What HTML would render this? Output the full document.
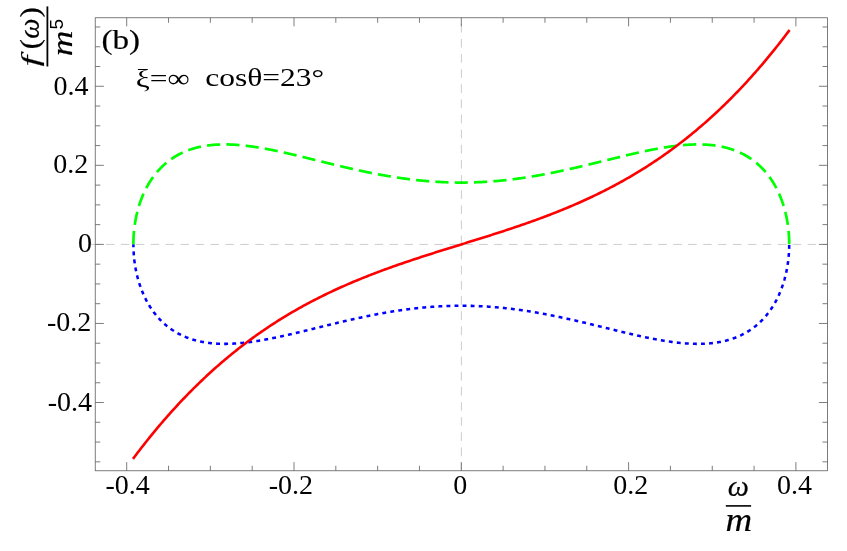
<!DOCTYPE html>
<html><head><meta charset="utf-8"><title>plot</title>
<style>
html,body{margin:0;padding:0;background:#fff;}
svg{display:block;}
text{fill:#000;}
</style></head><body>
<svg width="847" height="551" viewBox="0 0 847 551">
<rect width="847" height="551" fill="#fff"/>
<!-- curves -->
<g fill="none" stroke-linejoin="round" transform="translate(0 -0.25)">
<path d="M133.39 244.40 L133.39 244.96 L133.40 245.51 L133.40 246.07 L133.41 246.63 L133.42 247.19 L133.43 247.74 L133.45 248.30 L133.46 248.86 L133.48 249.41 L133.50 249.97 L133.53 250.52 L133.55 251.08 L133.58 251.64 L133.61 252.19 L133.65 252.75 L133.68 253.30 L133.72 253.86 L133.76 254.41 L133.80 254.97 L133.84 255.52 L133.89 256.07 L133.94 256.63 L133.99 257.18 L134.04 257.73 L134.10 258.28 L134.15 258.83 L134.21 259.38 L134.27 259.93 L134.34 260.48 L134.40 261.03 L134.47 261.58 L134.54 262.13 L134.62 262.68 L134.69 263.22 L134.77 263.77 L134.85 264.31 L134.93 264.86 L135.02 265.40 L135.10 265.95 L135.19 266.49 L135.28 267.03 L135.38 267.57 L135.47 268.11 L135.57 268.65 L135.67 269.19 L135.77 269.73 L135.88 270.27 L135.98 270.81 L136.09 271.34 L136.20 271.88 L136.32 272.41 L136.43 272.94 L136.55 273.47 L136.67 274.01 L136.79 274.54 L136.92 275.06 L137.04 275.59 L137.17 276.12 L137.30 276.65 L137.44 277.17 L137.57 277.69 L137.71 278.22 L137.85 278.74 L137.99 279.26 L138.14 279.78 L138.28 280.30 L138.43 280.81 L138.58 281.33 L138.74 281.84 L138.89 282.36 L139.05 282.87 L139.21 283.38 L139.37 283.89 L139.54 284.40 L139.70 284.90 L139.87 285.41 L140.04 285.91 L140.22 286.42 L140.39 286.92 L140.57 287.42 L140.75 287.92 L140.93 288.41 L141.12 288.91 L141.30 289.40 L141.49 289.90 L141.68 290.39 L141.87 290.88 L142.07 291.37 L142.27 291.85 L142.47 292.34 L142.67 292.82 L142.87 293.30 L143.08 293.79 L143.29 294.26 L143.50 294.74 L143.71 295.22 L143.93 295.69 L144.14 296.16 L144.36 296.63 L144.58 297.10 L144.81 297.57 L145.03 298.04 L145.26 298.50 L145.49 298.96 L145.72 299.42 L145.96 299.88 L146.19 300.34 L146.43 300.79 L146.67 301.24 L146.92 301.70 L147.16 302.15 L147.41 302.59 L147.66 303.04 L147.91 303.48 L148.17 303.92 L148.42 304.36 L148.68 304.80 L148.94 305.24 L149.20 305.67 L149.47 306.10 L149.73 306.53 L150.00 306.96 L150.27 307.39 L150.55 307.81 L150.82 308.23 L151.10 308.65 L151.38 309.07 L151.66 309.49 L151.95 309.90 L152.23 310.31 L152.52 310.72 L152.81 311.13 L153.10 311.53 L153.40 311.94 L153.69 312.34 L153.99 312.74 L154.29 313.13 L154.60 313.53 L154.90 313.92 L155.21 314.31 L155.52 314.70 L155.83 315.08 L156.14 315.47 L156.46 315.85 L156.77 316.23 L157.09 316.60 L157.42 316.98 L157.74 317.35 L158.07 317.72 L158.39 318.08 L158.72 318.45 L159.06 318.81 L159.39 319.17 L159.73 319.53 L160.06 319.89 L160.41 320.24 L160.75 320.59 L161.09 320.94 L161.44 321.28 L161.79 321.63 L162.14 321.97 L162.49 322.31 L162.85 322.64 L163.20 322.98 L163.56 323.31 L163.92 323.64 L164.29 323.96 L164.65 324.29 L165.02 324.61 L165.39 324.93 L165.76 325.24 L166.13 325.56 L166.51 325.87 L166.88 326.18 L167.26 326.48 L167.64 326.79 L168.03 327.09 L168.41 327.39 L168.80 327.69 L169.19 327.98 L169.58 328.27 L169.98 328.56 L170.37 328.84 L170.77 329.13 L171.17 329.41 L171.57 329.69 L171.97 329.96 L172.38 330.24 L172.78 330.51 L173.19 330.77 L173.61 331.04 L174.02 331.30 L174.43 331.56 L174.85 331.82 L175.27 332.07 L175.69 332.33 L176.11 332.58 L176.54 332.82 L176.97 333.07 L177.39 333.31 L177.83 333.55 L178.26 333.78 L178.69 334.02 L179.13 334.25 L179.57 334.47 L180.01 334.70 L180.45 334.92 L180.90 335.14 L181.34 335.36 L181.79 335.57 L182.24 335.79 L182.69 336.00 L183.15 336.20 L183.60 336.41 L184.06 336.61 L184.52 336.81 L184.98 337.00 L185.45 337.20 L185.91 337.39 L186.38 337.57 L186.85 337.76 L187.32 337.94 L187.79 338.12 L188.27 338.30 L188.74 338.47 L189.22 338.64 L189.70 338.81 L190.19 338.98 L190.67 339.14 L191.16 339.30 L191.64 339.46 L192.13 339.62 L192.63 339.77 L193.12 339.92 L193.61 340.07 L194.11 340.21 L194.61 340.35 L195.11 340.49 L195.61 340.63 L196.12 340.76 L196.62 340.89 L197.13 341.02 L197.64 341.15 L198.15 341.27 L198.67 341.39 L199.18 341.51 L199.70 341.63 L200.22 341.74 L200.74 341.85 L201.26 341.95 L201.79 342.06 L202.31 342.16 L202.84 342.26 L203.37 342.36 L203.90 342.45 L204.43 342.54 L204.97 342.63 L205.51 342.72 L206.04 342.80 L206.58 342.88 L207.13 342.96 L207.67 343.03 L208.22 343.11 L208.76 343.18 L209.31 343.25 L209.86 343.31 L210.41 343.37 L210.97 343.43 L211.52 343.49 L212.08 343.55 L212.64 343.60 L213.20 343.65 L213.77 343.70 L214.33 343.74 L214.90 343.78 L215.46 343.82 L216.03 343.86 L216.60 343.89 L217.18 343.93 L217.75 343.96 L218.33 343.98 L218.90 344.01 L219.48 344.03 L220.07 344.05 L220.65 344.07 L221.23 344.08 L221.82 344.10 L222.41 344.11 L223.00 344.11 L223.59 344.12 L224.18 344.12 L224.77 344.12 L225.37 344.12 L225.97 344.12 L226.57 344.11 L227.17 344.10 L227.77 344.09 L228.37 344.08 L228.98 344.06 L229.59 344.04 L230.19 344.02 L230.80 344.00 L231.42 343.97 L232.03 343.95 L232.65 343.92 L233.26 343.88 L233.88 343.85 L234.50 343.81 L235.12 343.78 L235.74 343.74 L236.37 343.69 L236.99 343.65 L237.62 343.60 L238.25 343.55 L238.88 343.50 L239.51 343.45 L240.15 343.39 L240.78 343.33 L241.42 343.27 L242.06 343.21 L242.70 343.15 L243.34 343.08 L243.98 343.01 L244.62 342.94 L245.27 342.87 L245.92 342.80 L246.57 342.72 L247.22 342.64 L247.87 342.56 L248.52 342.48 L249.17 342.40 L249.83 342.31 L250.49 342.22 L251.15 342.13 L251.81 342.04 L252.47 341.95 L253.13 341.85 L253.80 341.76 L254.46 341.66 L255.13 341.56 L255.80 341.45 L256.47 341.35 L257.14 341.24 L257.81 341.14 L258.49 341.03 L259.16 340.92 L259.84 340.80 L260.52 340.69 L261.20 340.57 L261.88 340.46 L262.56 340.34 L263.25 340.22 L263.93 340.09 L264.62 339.97 L265.31 339.84 L266.00 339.72 L266.69 339.59 L267.38 339.46 L268.07 339.33 L268.77 339.19 L269.47 339.06 L270.16 338.92 L270.86 338.78 L271.56 338.65 L272.26 338.51 L272.97 338.36 L273.67 338.22 L274.37 338.08 L275.08 337.93 L275.79 337.78 L276.50 337.64 L277.21 337.49 L277.92 337.33 L278.63 337.18 L279.35 337.03 L280.06 336.88 L280.78 336.72 L281.50 336.56 L282.22 336.40 L282.94 336.25 L283.66 336.09 L284.38 335.92 L285.11 335.76 L285.83 335.60 L286.56 335.43 L287.28 335.27 L288.01 335.10 L288.74 334.93 L289.47 334.77 L290.21 334.60 L290.94 334.43 L291.67 334.26 L292.41 334.08 L293.15 333.91 L293.89 333.74 L294.63 333.56 L295.37 333.39 L296.11 333.21 L296.85 333.03 L297.59 332.86 L298.34 332.68 L299.09 332.50 L299.83 332.32 L300.58 332.14 L301.33 331.96 L302.08 331.77 L302.83 331.59 L303.59 331.41 L304.34 331.23 L305.09 331.04 L305.85 330.86 L306.61 330.67 L307.36 330.49 L308.12 330.30 L308.88 330.11 L309.65 329.92 L310.41 329.74 L311.17 329.55 L311.94 329.36 L312.70 329.17 L313.47 328.98 L314.23 328.79 L315.00 328.60 L315.77 328.41 L316.54 328.22 L317.31 328.03 L318.09 327.84 L318.86 327.65 L319.63 327.46 L320.41 327.27 L321.19 327.08 L321.96 326.88 L322.74 326.69 L323.52 326.50 L324.30 326.31 L325.08 326.11 L325.86 325.92 L326.65 325.73 L327.43 325.54 L328.22 325.35 L329.00 325.15 L329.79 324.96 L330.58 324.77 L331.36 324.58 L332.15 324.39 L332.94 324.19 L333.73 324.00 L334.53 323.81 L335.32 323.62 L336.11 323.43 L336.91 323.24 L337.70 323.05 L338.50 322.86 L339.30 322.67 L340.09 322.48 L340.89 322.29 L341.69 322.10 L342.49 321.91 L343.29 321.72 L344.10 321.53 L344.90 321.34 L345.70 321.16 L346.51 320.97 L347.31 320.78 L348.12 320.60 L348.92 320.41 L349.73 320.23 L350.54 320.04 L351.35 319.86 L352.16 319.68 L352.97 319.49 L353.78 319.31 L354.59 319.13 L355.41 318.95 L356.22 318.77 L357.03 318.59 L357.85 318.41 L358.66 318.23 L359.48 318.05 L360.30 317.88 L361.12 317.70 L361.93 317.53 L362.75 317.35 L363.57 317.18 L364.39 317.01 L365.21 316.83 L366.04 316.66 L366.86 316.49 L367.68 316.32 L368.51 316.15 L369.33 315.99 L370.15 315.82 L370.98 315.65 L371.81 315.49 L372.63 315.33 L373.46 315.16 L374.29 315.00 L375.12 314.84 L375.95 314.68 L376.78 314.52 L377.61 314.36 L378.44 314.21 L379.27 314.05 L380.10 313.90 L380.93 313.75 L381.77 313.59 L382.60 313.44 L383.44 313.29 L384.27 313.14 L385.11 313.00 L385.94 312.85 L386.78 312.71 L387.62 312.56 L388.45 312.42 L389.29 312.28 L390.13 312.14 L390.97 312.00 L391.81 311.86 L392.65 311.73 L393.49 311.59 L394.33 311.46 L395.17 311.33 L396.01 311.20 L396.85 311.07 L397.70 310.94 L398.54 310.81 L399.38 310.69 L400.23 310.57 L401.07 310.44 L401.92 310.32 L402.76 310.20 L403.61 310.09 L404.45 309.97 L405.30 309.86 L406.15 309.74 L406.99 309.63 L407.84 309.52 L408.69 309.41 L409.54 309.30 L410.39 309.20 L411.23 309.10 L412.08 308.99 L412.93 308.89 L413.78 308.79 L414.63 308.70 L415.48 308.60 L416.34 308.51 L417.19 308.41 L418.04 308.32 L418.89 308.23 L419.74 308.14 L420.59 308.06 L421.45 307.97 L422.30 307.89 L423.15 307.81 L424.01 307.73 L424.86 307.65 L425.71 307.58 L426.57 307.50 L427.42 307.43 L428.28 307.36 L429.13 307.29 L429.99 307.22 L430.84 307.16 L431.70 307.09 L432.55 307.03 L433.41 306.97 L434.27 306.91 L435.12 306.85 L435.98 306.80 L436.84 306.75 L437.69 306.69 L438.55 306.65 L439.41 306.60 L440.26 306.55 L441.12 306.51 L441.98 306.46 L442.84 306.42 L443.70 306.39 L444.55 306.35 L445.41 306.31 L446.27 306.28 L447.13 306.25 L447.99 306.22 L448.84 306.19 L449.70 306.16 L450.56 306.14 L451.42 306.12 L452.28 306.10 L453.14 306.08 L454.00 306.06 L454.86 306.05 L455.72 306.03 L456.57 306.02 L457.43 306.01 L458.29 306.01 L459.15 306.00 L460.01 306.00 L460.87 306.00 L461.73 306.00 L462.59 306.00 L463.45 306.00 L464.31 306.01 L465.17 306.01 L466.03 306.02 L466.88 306.03 L467.74 306.05 L468.60 306.06 L469.46 306.08 L470.32 306.10 L471.18 306.12 L472.04 306.14 L472.90 306.16 L473.76 306.19 L474.61 306.22 L475.47 306.25 L476.33 306.28 L477.19 306.31 L478.05 306.35 L478.90 306.39 L479.76 306.42 L480.62 306.46 L481.48 306.51 L482.34 306.55 L483.19 306.60 L484.05 306.65 L484.91 306.69 L485.76 306.75 L486.62 306.80 L487.48 306.85 L488.33 306.91 L489.19 306.97 L490.05 307.03 L490.90 307.09 L491.76 307.16 L492.61 307.22 L493.47 307.29 L494.32 307.36 L495.18 307.43 L496.03 307.50 L496.89 307.58 L497.74 307.65 L498.59 307.73 L499.45 307.81 L500.30 307.89 L501.15 307.97 L502.01 308.06 L502.86 308.14 L503.71 308.23 L504.56 308.32 L505.41 308.41 L506.26 308.51 L507.12 308.60 L507.97 308.70 L508.82 308.79 L509.67 308.89 L510.52 308.99 L511.37 309.10 L512.21 309.20 L513.06 309.30 L513.91 309.41 L514.76 309.52 L515.61 309.63 L516.45 309.74 L517.30 309.86 L518.15 309.97 L518.99 310.09 L519.84 310.20 L520.68 310.32 L521.53 310.44 L522.37 310.57 L523.22 310.69 L524.06 310.81 L524.90 310.94 L525.75 311.07 L526.59 311.20 L527.43 311.33 L528.27 311.46 L529.11 311.59 L529.95 311.73 L530.79 311.86 L531.63 312.00 L532.47 312.14 L533.31 312.28 L534.15 312.42 L534.98 312.56 L535.82 312.71 L536.66 312.85 L537.49 313.00 L538.33 313.14 L539.16 313.29 L540.00 313.44 L540.83 313.59 L541.67 313.75 L542.50 313.90 L543.33 314.05 L544.16 314.21 L544.99 314.36 L545.82 314.52 L546.65 314.68 L547.48 314.84 L548.31 315.00 L549.14 315.16 L549.97 315.33 L550.79 315.49 L551.62 315.65 L552.45 315.82 L553.27 315.99 L554.09 316.15 L554.92 316.32 L555.74 316.49 L556.56 316.66 L557.39 316.83 L558.21 317.01 L559.03 317.18 L559.85 317.35 L560.67 317.53 L561.48 317.70 L562.30 317.88 L563.12 318.05 L563.94 318.23 L564.75 318.41 L565.57 318.59 L566.38 318.77 L567.19 318.95 L568.01 319.13 L568.82 319.31 L569.63 319.49 L570.44 319.68 L571.25 319.86 L572.06 320.04 L572.87 320.23 L573.68 320.41 L574.48 320.60 L575.29 320.78 L576.09 320.97 L576.90 321.16 L577.70 321.34 L578.50 321.53 L579.31 321.72 L580.11 321.91 L580.91 322.10 L581.71 322.29 L582.51 322.48 L583.30 322.67 L584.10 322.86 L584.90 323.05 L585.69 323.24 L586.49 323.43 L587.28 323.62 L588.07 323.81 L588.87 324.00 L589.66 324.19 L590.45 324.39 L591.24 324.58 L592.02 324.77 L592.81 324.96 L593.60 325.15 L594.38 325.35 L595.17 325.54 L595.95 325.73 L596.74 325.92 L597.52 326.11 L598.30 326.31 L599.08 326.50 L599.86 326.69 L600.64 326.88 L601.41 327.08 L602.19 327.27 L602.97 327.46 L603.74 327.65 L604.51 327.84 L605.29 328.03 L606.06 328.22 L606.83 328.41 L607.60 328.60 L608.37 328.79 L609.13 328.98 L609.90 329.17 L610.66 329.36 L611.43 329.55 L612.19 329.74 L612.95 329.92 L613.72 330.11 L614.48 330.30 L615.24 330.49 L615.99 330.67 L616.75 330.86 L617.51 331.04 L618.26 331.23 L619.01 331.41 L619.77 331.59 L620.52 331.77 L621.27 331.96 L622.02 332.14 L622.77 332.32 L623.51 332.50 L624.26 332.68 L625.01 332.86 L625.75 333.03 L626.49 333.21 L627.23 333.39 L627.97 333.56 L628.71 333.74 L629.45 333.91 L630.19 334.08 L630.93 334.26 L631.66 334.43 L632.39 334.60 L633.13 334.77 L633.86 334.93 L634.59 335.10 L635.32 335.27 L636.04 335.43 L636.77 335.60 L637.49 335.76 L638.22 335.92 L638.94 336.09 L639.66 336.25 L640.38 336.40 L641.10 336.56 L641.82 336.72 L642.54 336.88 L643.25 337.03 L643.97 337.18 L644.68 337.33 L645.39 337.49 L646.10 337.64 L646.81 337.78 L647.52 337.93 L648.23 338.08 L648.93 338.22 L649.63 338.36 L650.34 338.51 L651.04 338.65 L651.74 338.78 L652.44 338.92 L653.13 339.06 L653.83 339.19 L654.53 339.33 L655.22 339.46 L655.91 339.59 L656.60 339.72 L657.29 339.84 L657.98 339.97 L658.67 340.09 L659.35 340.22 L660.04 340.34 L660.72 340.46 L661.40 340.57 L662.08 340.69 L662.76 340.80 L663.44 340.92 L664.11 341.03 L664.79 341.14 L665.46 341.24 L666.13 341.35 L666.80 341.45 L667.47 341.56 L668.14 341.66 L668.80 341.76 L669.47 341.85 L670.13 341.95 L670.79 342.04 L671.45 342.13 L672.11 342.22 L672.77 342.31 L673.43 342.40 L674.08 342.48 L674.73 342.56 L675.38 342.64 L676.03 342.72 L676.68 342.80 L677.33 342.87 L677.98 342.94 L678.62 343.01 L679.26 343.08 L679.90 343.15 L680.54 343.21 L681.18 343.27 L681.82 343.33 L682.45 343.39 L683.09 343.45 L683.72 343.50 L684.35 343.55 L684.98 343.60 L685.61 343.65 L686.23 343.69 L686.86 343.74 L687.48 343.78 L688.10 343.81 L688.72 343.85 L689.34 343.88 L689.95 343.92 L690.57 343.95 L691.18 343.97 L691.80 344.00 L692.41 344.02 L693.01 344.04 L693.62 344.06 L694.23 344.08 L694.83 344.09 L695.43 344.10 L696.03 344.11 L696.63 344.12 L697.23 344.12 L697.83 344.12 L698.42 344.12 L699.01 344.12 L699.60 344.11 L700.19 344.11 L700.78 344.10 L701.37 344.08 L701.95 344.07 L702.53 344.05 L703.12 344.03 L703.70 344.01 L704.27 343.98 L704.85 343.96 L705.42 343.93 L706.00 343.89 L706.57 343.86 L707.14 343.82 L707.70 343.78 L708.27 343.74 L708.83 343.70 L709.40 343.65 L709.96 343.60 L710.52 343.55 L711.08 343.49 L711.63 343.43 L712.19 343.37 L712.74 343.31 L713.29 343.25 L713.84 343.18 L714.38 343.11 L714.93 343.03 L715.47 342.96 L716.02 342.88 L716.56 342.80 L717.09 342.72 L717.63 342.63 L718.17 342.54 L718.70 342.45 L719.23 342.36 L719.76 342.26 L720.29 342.16 L720.81 342.06 L721.34 341.95 L721.86 341.85 L722.38 341.74 L722.90 341.63 L723.42 341.51 L723.93 341.39 L724.45 341.27 L724.96 341.15 L725.47 341.02 L725.98 340.89 L726.48 340.76 L726.99 340.63 L727.49 340.49 L727.99 340.35 L728.49 340.21 L728.99 340.07 L729.48 339.92 L729.97 339.77 L730.47 339.62 L730.96 339.46 L731.44 339.30 L731.93 339.14 L732.41 338.98 L732.90 338.81 L733.38 338.64 L733.86 338.47 L734.33 338.30 L734.81 338.12 L735.28 337.94 L735.75 337.76 L736.22 337.57 L736.69 337.39 L737.15 337.20 L737.62 337.00 L738.08 336.81 L738.54 336.61 L739.00 336.41 L739.45 336.20 L739.91 336.00 L740.36 335.79 L740.81 335.57 L741.26 335.36 L741.70 335.14 L742.15 334.92 L742.59 334.70 L743.03 334.47 L743.47 334.25 L743.91 334.02 L744.34 333.78 L744.77 333.55 L745.21 333.31 L745.63 333.07 L746.06 332.82 L746.49 332.58 L746.91 332.33 L747.33 332.07 L747.75 331.82 L748.17 331.56 L748.58 331.30 L748.99 331.04 L749.41 330.77 L749.82 330.51 L750.22 330.24 L750.63 329.96 L751.03 329.69 L751.43 329.41 L751.83 329.13 L752.23 328.84 L752.62 328.56 L753.02 328.27 L753.41 327.98 L753.80 327.69 L754.19 327.39 L754.57 327.09 L754.96 326.79 L755.34 326.48 L755.72 326.18 L756.09 325.87 L756.47 325.56 L756.84 325.24 L757.21 324.93 L757.58 324.61 L757.95 324.29 L758.31 323.96 L758.68 323.64 L759.04 323.31 L759.40 322.98 L759.75 322.64 L760.11 322.31 L760.46 321.97 L760.81 321.63 L761.16 321.28 L761.51 320.94 L761.85 320.59 L762.19 320.24 L762.54 319.89 L762.87 319.53 L763.21 319.17 L763.54 318.81 L763.88 318.45 L764.21 318.08 L764.53 317.72 L764.86 317.35 L765.18 316.98 L765.51 316.60 L765.83 316.23 L766.14 315.85 L766.46 315.47 L766.77 315.08 L767.08 314.70 L767.39 314.31 L767.70 313.92 L768.00 313.53 L768.31 313.13 L768.61 312.74 L768.91 312.34 L769.20 311.94 L769.50 311.53 L769.79 311.13 L770.08 310.72 L770.37 310.31 L770.65 309.90 L770.94 309.49 L771.22 309.07 L771.50 308.65 L771.78 308.23 L772.05 307.81 L772.33 307.39 L772.60 306.96 L772.87 306.53 L773.13 306.10 L773.40 305.67 L773.66 305.24 L773.92 304.80 L774.18 304.36 L774.43 303.92 L774.69 303.48 L774.94 303.04 L775.19 302.59 L775.44 302.15 L775.68 301.70 L775.93 301.24 L776.17 300.79 L776.41 300.34 L776.64 299.88 L776.88 299.42 L777.11 298.96 L777.34 298.50 L777.57 298.04 L777.79 297.57 L778.02 297.10 L778.24 296.63 L778.46 296.16 L778.67 295.69 L778.89 295.22 L779.10 294.74 L779.31 294.26 L779.52 293.79 L779.73 293.30 L779.93 292.82 L780.13 292.34 L780.33 291.85 L780.53 291.37 L780.73 290.88 L780.92 290.39 L781.11 289.90 L781.30 289.40 L781.48 288.91 L781.67 288.41 L781.85 287.92 L782.03 287.42 L782.21 286.92 L782.38 286.42 L782.56 285.91 L782.73 285.41 L782.90 284.90 L783.06 284.40 L783.23 283.89 L783.39 283.38 L783.55 282.87 L783.71 282.36 L783.86 281.84 L784.02 281.33 L784.17 280.81 L784.32 280.30 L784.46 279.78 L784.61 279.26 L784.75 278.74 L784.89 278.22 L785.03 277.69 L785.16 277.17 L785.30 276.65 L785.43 276.12 L785.56 275.59 L785.68 275.06 L785.81 274.54 L785.93 274.01 L786.05 273.47 L786.17 272.94 L786.28 272.41 L786.40 271.88 L786.51 271.34 L786.62 270.81 L786.72 270.27 L786.83 269.73 L786.93 269.19 L787.03 268.65 L787.13 268.11 L787.22 267.57 L787.32 267.03 L787.41 266.49 L787.50 265.95 L787.58 265.40 L787.67 264.86 L787.75 264.31 L787.83 263.77 L787.91 263.22 L787.98 262.68 L788.06 262.13 L788.13 261.58 L788.20 261.03 L788.26 260.48 L788.33 259.93 L788.39 259.38 L788.45 258.83 L788.50 258.28 L788.56 257.73 L788.61 257.18 L788.66 256.63 L788.71 256.07 L788.76 255.52 L788.80 254.97 L788.84 254.41 L788.88 253.86 L788.92 253.30 L788.95 252.75 L788.99 252.19 L789.02 251.64 L789.05 251.08 L789.07 250.52 L789.10 249.97 L789.12 249.41 L789.14 248.86 L789.15 248.30 L789.17 247.74 L789.18 247.19 L789.19 246.63 L789.20 246.07 L789.20 245.51 L789.21 244.96 L789.21 244.40" stroke="#0000ff" stroke-width="2.55" stroke-dasharray="3.900 4.170" stroke-dashoffset="0.8"/>
<path d="M133.39 244.40 L133.39 243.84 L133.40 243.29 L133.40 242.73 L133.41 242.17 L133.42 241.61 L133.43 241.06 L133.45 240.50 L133.46 239.94 L133.48 239.39 L133.50 238.83 L133.53 238.28 L133.55 237.72 L133.58 237.16 L133.61 236.61 L133.65 236.05 L133.68 235.50 L133.72 234.94 L133.76 234.39 L133.80 233.83 L133.84 233.28 L133.89 232.73 L133.94 232.17 L133.99 231.62 L134.04 231.07 L134.10 230.52 L134.15 229.97 L134.21 229.42 L134.27 228.87 L134.34 228.32 L134.40 227.77 L134.47 227.22 L134.54 226.67 L134.62 226.12 L134.69 225.58 L134.77 225.03 L134.85 224.49 L134.93 223.94 L135.02 223.40 L135.10 222.85 L135.19 222.31 L135.28 221.77 L135.38 221.23 L135.47 220.69 L135.57 220.15 L135.67 219.61 L135.77 219.07 L135.88 218.53 L135.98 217.99 L136.09 217.46 L136.20 216.92 L136.32 216.39 L136.43 215.86 L136.55 215.33 L136.67 214.79 L136.79 214.26 L136.92 213.74 L137.04 213.21 L137.17 212.68 L137.30 212.15 L137.44 211.63 L137.57 211.11 L137.71 210.58 L137.85 210.06 L137.99 209.54 L138.14 209.02 L138.28 208.50 L138.43 207.99 L138.58 207.47 L138.74 206.96 L138.89 206.44 L139.05 205.93 L139.21 205.42 L139.37 204.91 L139.54 204.40 L139.70 203.90 L139.87 203.39 L140.04 202.89 L140.22 202.38 L140.39 201.88 L140.57 201.38 L140.75 200.88 L140.93 200.39 L141.12 199.89 L141.30 199.40 L141.49 198.90 L141.68 198.41 L141.87 197.92 L142.07 197.43 L142.27 196.95 L142.47 196.46 L142.67 195.98 L142.87 195.50 L143.08 195.01 L143.29 194.54 L143.50 194.06 L143.71 193.58 L143.93 193.11 L144.14 192.64 L144.36 192.17 L144.58 191.70 L144.81 191.23 L145.03 190.76 L145.26 190.30 L145.49 189.84 L145.72 189.38 L145.96 188.92 L146.19 188.46 L146.43 188.01 L146.67 187.56 L146.92 187.10 L147.16 186.65 L147.41 186.21 L147.66 185.76 L147.91 185.32 L148.17 184.88 L148.42 184.44 L148.68 184.00 L148.94 183.56 L149.20 183.13 L149.47 182.70 L149.73 182.27 L150.00 181.84 L150.27 181.41 L150.55 180.99 L150.82 180.57 L151.10 180.15 L151.38 179.73 L151.66 179.31 L151.95 178.90 L152.23 178.49 L152.52 178.08 L152.81 177.67 L153.10 177.27 L153.40 176.86 L153.69 176.46 L153.99 176.06 L154.29 175.67 L154.60 175.27 L154.90 174.88 L155.21 174.49 L155.52 174.10 L155.83 173.72 L156.14 173.33 L156.46 172.95 L156.77 172.57 L157.09 172.20 L157.42 171.82 L157.74 171.45 L158.07 171.08 L158.39 170.72 L158.72 170.35 L159.06 169.99 L159.39 169.63 L159.73 169.27 L160.06 168.91 L160.41 168.56 L160.75 168.21 L161.09 167.86 L161.44 167.52 L161.79 167.17 L162.14 166.83 L162.49 166.49 L162.85 166.16 L163.20 165.82 L163.56 165.49 L163.92 165.16 L164.29 164.84 L164.65 164.51 L165.02 164.19 L165.39 163.87 L165.76 163.56 L166.13 163.24 L166.51 162.93 L166.88 162.62 L167.26 162.32 L167.64 162.01 L168.03 161.71 L168.41 161.41 L168.80 161.11 L169.19 160.82 L169.58 160.53 L169.98 160.24 L170.37 159.96 L170.77 159.67 L171.17 159.39 L171.57 159.11 L171.97 158.84 L172.38 158.56 L172.78 158.29 L173.19 158.03 L173.61 157.76 L174.02 157.50 L174.43 157.24 L174.85 156.98 L175.27 156.73 L175.69 156.47 L176.11 156.22 L176.54 155.98 L176.97 155.73 L177.39 155.49 L177.83 155.25 L178.26 155.02 L178.69 154.78 L179.13 154.55 L179.57 154.33 L180.01 154.10 L180.45 153.88 L180.90 153.66 L181.34 153.44 L181.79 153.23 L182.24 153.01 L182.69 152.80 L183.15 152.60 L183.60 152.39 L184.06 152.19 L184.52 151.99 L184.98 151.80 L185.45 151.60 L185.91 151.41 L186.38 151.23 L186.85 151.04 L187.32 150.86 L187.79 150.68 L188.27 150.50 L188.74 150.33 L189.22 150.16 L189.70 149.99 L190.19 149.82 L190.67 149.66 L191.16 149.50 L191.64 149.34 L192.13 149.18 L192.63 149.03 L193.12 148.88 L193.61 148.73 L194.11 148.59 L194.61 148.45 L195.11 148.31 L195.61 148.17 L196.12 148.04 L196.62 147.91 L197.13 147.78 L197.64 147.65 L198.15 147.53 L198.67 147.41 L199.18 147.29 L199.70 147.17 L200.22 147.06 L200.74 146.95 L201.26 146.85 L201.79 146.74 L202.31 146.64 L202.84 146.54 L203.37 146.44 L203.90 146.35 L204.43 146.26 L204.97 146.17 L205.51 146.08 L206.04 146.00 L206.58 145.92 L207.13 145.84 L207.67 145.77 L208.22 145.69 L208.76 145.62 L209.31 145.55 L209.86 145.49 L210.41 145.43 L210.97 145.37 L211.52 145.31 L212.08 145.25 L212.64 145.20 L213.20 145.15 L213.77 145.10 L214.33 145.06 L214.90 145.02 L215.46 144.98 L216.03 144.94 L216.60 144.91 L217.18 144.87 L217.75 144.84 L218.33 144.82 L218.90 144.79 L219.48 144.77 L220.07 144.75 L220.65 144.73 L221.23 144.72 L221.82 144.70 L222.41 144.69 L223.00 144.69 L223.59 144.68 L224.18 144.68 L224.77 144.68 L225.37 144.68 L225.97 144.68 L226.57 144.69 L227.17 144.70 L227.77 144.71 L228.37 144.72 L228.98 144.74 L229.59 144.76 L230.19 144.78 L230.80 144.80 L231.42 144.83 L232.03 144.85 L232.65 144.88 L233.26 144.92 L233.88 144.95 L234.50 144.99 L235.12 145.02 L235.74 145.06 L236.37 145.11 L236.99 145.15 L237.62 145.20 L238.25 145.25 L238.88 145.30 L239.51 145.35 L240.15 145.41 L240.78 145.47 L241.42 145.53 L242.06 145.59 L242.70 145.65 L243.34 145.72 L243.98 145.79 L244.62 145.86 L245.27 145.93 L245.92 146.00 L246.57 146.08 L247.22 146.16 L247.87 146.24 L248.52 146.32 L249.17 146.40 L249.83 146.49 L250.49 146.58 L251.15 146.67 L251.81 146.76 L252.47 146.85 L253.13 146.95 L253.80 147.04 L254.46 147.14 L255.13 147.24 L255.80 147.35 L256.47 147.45 L257.14 147.56 L257.81 147.66 L258.49 147.77 L259.16 147.88 L259.84 148.00 L260.52 148.11 L261.20 148.23 L261.88 148.34 L262.56 148.46 L263.25 148.58 L263.93 148.71 L264.62 148.83 L265.31 148.96 L266.00 149.08 L266.69 149.21 L267.38 149.34 L268.07 149.47 L268.77 149.61 L269.47 149.74 L270.16 149.88 L270.86 150.02 L271.56 150.15 L272.26 150.29 L272.97 150.44 L273.67 150.58 L274.37 150.72 L275.08 150.87 L275.79 151.02 L276.50 151.16 L277.21 151.31 L277.92 151.47 L278.63 151.62 L279.35 151.77 L280.06 151.92 L280.78 152.08 L281.50 152.24 L282.22 152.40 L282.94 152.55 L283.66 152.71 L284.38 152.88 L285.11 153.04 L285.83 153.20 L286.56 153.37 L287.28 153.53 L288.01 153.70 L288.74 153.87 L289.47 154.03 L290.21 154.20 L290.94 154.37 L291.67 154.54 L292.41 154.72 L293.15 154.89 L293.89 155.06 L294.63 155.24 L295.37 155.41 L296.11 155.59 L296.85 155.77 L297.59 155.94 L298.34 156.12 L299.09 156.30 L299.83 156.48 L300.58 156.66 L301.33 156.84 L302.08 157.03 L302.83 157.21 L303.59 157.39 L304.34 157.57 L305.09 157.76 L305.85 157.94 L306.61 158.13 L307.36 158.31 L308.12 158.50 L308.88 158.69 L309.65 158.88 L310.41 159.06 L311.17 159.25 L311.94 159.44 L312.70 159.63 L313.47 159.82 L314.23 160.01 L315.00 160.20 L315.77 160.39 L316.54 160.58 L317.31 160.77 L318.09 160.96 L318.86 161.15 L319.63 161.34 L320.41 161.53 L321.19 161.72 L321.96 161.92 L322.74 162.11 L323.52 162.30 L324.30 162.49 L325.08 162.69 L325.86 162.88 L326.65 163.07 L327.43 163.26 L328.22 163.45 L329.00 163.65 L329.79 163.84 L330.58 164.03 L331.36 164.22 L332.15 164.41 L332.94 164.61 L333.73 164.80 L334.53 164.99 L335.32 165.18 L336.11 165.37 L336.91 165.56 L337.70 165.75 L338.50 165.94 L339.30 166.13 L340.09 166.32 L340.89 166.51 L341.69 166.70 L342.49 166.89 L343.29 167.08 L344.10 167.27 L344.90 167.46 L345.70 167.64 L346.51 167.83 L347.31 168.02 L348.12 168.20 L348.92 168.39 L349.73 168.57 L350.54 168.76 L351.35 168.94 L352.16 169.12 L352.97 169.31 L353.78 169.49 L354.59 169.67 L355.41 169.85 L356.22 170.03 L357.03 170.21 L357.85 170.39 L358.66 170.57 L359.48 170.75 L360.30 170.92 L361.12 171.10 L361.93 171.27 L362.75 171.45 L363.57 171.62 L364.39 171.79 L365.21 171.97 L366.04 172.14 L366.86 172.31 L367.68 172.48 L368.51 172.65 L369.33 172.81 L370.15 172.98 L370.98 173.15 L371.81 173.31 L372.63 173.47 L373.46 173.64 L374.29 173.80 L375.12 173.96 L375.95 174.12 L376.78 174.28 L377.61 174.44 L378.44 174.59 L379.27 174.75 L380.10 174.90 L380.93 175.05 L381.77 175.21 L382.60 175.36 L383.44 175.51 L384.27 175.66 L385.11 175.80 L385.94 175.95 L386.78 176.09 L387.62 176.24 L388.45 176.38 L389.29 176.52 L390.13 176.66 L390.97 176.80 L391.81 176.94 L392.65 177.07 L393.49 177.21 L394.33 177.34 L395.17 177.47 L396.01 177.60 L396.85 177.73 L397.70 177.86 L398.54 177.99 L399.38 178.11 L400.23 178.23 L401.07 178.36 L401.92 178.48 L402.76 178.60 L403.61 178.71 L404.45 178.83 L405.30 178.94 L406.15 179.06 L406.99 179.17 L407.84 179.28 L408.69 179.39 L409.54 179.50 L410.39 179.60 L411.23 179.70 L412.08 179.81 L412.93 179.91 L413.78 180.01 L414.63 180.10 L415.48 180.20 L416.34 180.29 L417.19 180.39 L418.04 180.48 L418.89 180.57 L419.74 180.66 L420.59 180.74 L421.45 180.83 L422.30 180.91 L423.15 180.99 L424.01 181.07 L424.86 181.15 L425.71 181.22 L426.57 181.30 L427.42 181.37 L428.28 181.44 L429.13 181.51 L429.99 181.58 L430.84 181.64 L431.70 181.71 L432.55 181.77 L433.41 181.83 L434.27 181.89 L435.12 181.95 L435.98 182.00 L436.84 182.05 L437.69 182.11 L438.55 182.15 L439.41 182.20 L440.26 182.25 L441.12 182.29 L441.98 182.34 L442.84 182.38 L443.70 182.41 L444.55 182.45 L445.41 182.49 L446.27 182.52 L447.13 182.55 L447.99 182.58 L448.84 182.61 L449.70 182.64 L450.56 182.66 L451.42 182.68 L452.28 182.70 L453.14 182.72 L454.00 182.74 L454.86 182.75 L455.72 182.77 L456.57 182.78 L457.43 182.79 L458.29 182.79 L459.15 182.80 L460.01 182.80 L460.87 182.80 L461.73 182.80 L462.59 182.80 L463.45 182.80 L464.31 182.79 L465.17 182.79 L466.03 182.78 L466.88 182.77 L467.74 182.75 L468.60 182.74 L469.46 182.72 L470.32 182.70 L471.18 182.68 L472.04 182.66 L472.90 182.64 L473.76 182.61 L474.61 182.58 L475.47 182.55 L476.33 182.52 L477.19 182.49 L478.05 182.45 L478.90 182.41 L479.76 182.38 L480.62 182.34 L481.48 182.29 L482.34 182.25 L483.19 182.20 L484.05 182.15 L484.91 182.11 L485.76 182.05 L486.62 182.00 L487.48 181.95 L488.33 181.89 L489.19 181.83 L490.05 181.77 L490.90 181.71 L491.76 181.64 L492.61 181.58 L493.47 181.51 L494.32 181.44 L495.18 181.37 L496.03 181.30 L496.89 181.22 L497.74 181.15 L498.59 181.07 L499.45 180.99 L500.30 180.91 L501.15 180.83 L502.01 180.74 L502.86 180.66 L503.71 180.57 L504.56 180.48 L505.41 180.39 L506.26 180.29 L507.12 180.20 L507.97 180.10 L508.82 180.01 L509.67 179.91 L510.52 179.81 L511.37 179.70 L512.21 179.60 L513.06 179.50 L513.91 179.39 L514.76 179.28 L515.61 179.17 L516.45 179.06 L517.30 178.94 L518.15 178.83 L518.99 178.71 L519.84 178.60 L520.68 178.48 L521.53 178.36 L522.37 178.23 L523.22 178.11 L524.06 177.99 L524.90 177.86 L525.75 177.73 L526.59 177.60 L527.43 177.47 L528.27 177.34 L529.11 177.21 L529.95 177.07 L530.79 176.94 L531.63 176.80 L532.47 176.66 L533.31 176.52 L534.15 176.38 L534.98 176.24 L535.82 176.09 L536.66 175.95 L537.49 175.80 L538.33 175.66 L539.16 175.51 L540.00 175.36 L540.83 175.21 L541.67 175.05 L542.50 174.90 L543.33 174.75 L544.16 174.59 L544.99 174.44 L545.82 174.28 L546.65 174.12 L547.48 173.96 L548.31 173.80 L549.14 173.64 L549.97 173.47 L550.79 173.31 L551.62 173.15 L552.45 172.98 L553.27 172.81 L554.09 172.65 L554.92 172.48 L555.74 172.31 L556.56 172.14 L557.39 171.97 L558.21 171.79 L559.03 171.62 L559.85 171.45 L560.67 171.27 L561.48 171.10 L562.30 170.92 L563.12 170.75 L563.94 170.57 L564.75 170.39 L565.57 170.21 L566.38 170.03 L567.19 169.85 L568.01 169.67 L568.82 169.49 L569.63 169.31 L570.44 169.12 L571.25 168.94 L572.06 168.76 L572.87 168.57 L573.68 168.39 L574.48 168.20 L575.29 168.02 L576.09 167.83 L576.90 167.64 L577.70 167.46 L578.50 167.27 L579.31 167.08 L580.11 166.89 L580.91 166.70 L581.71 166.51 L582.51 166.32 L583.30 166.13 L584.10 165.94 L584.90 165.75 L585.69 165.56 L586.49 165.37 L587.28 165.18 L588.07 164.99 L588.87 164.80 L589.66 164.61 L590.45 164.41 L591.24 164.22 L592.02 164.03 L592.81 163.84 L593.60 163.65 L594.38 163.45 L595.17 163.26 L595.95 163.07 L596.74 162.88 L597.52 162.69 L598.30 162.49 L599.08 162.30 L599.86 162.11 L600.64 161.92 L601.41 161.72 L602.19 161.53 L602.97 161.34 L603.74 161.15 L604.51 160.96 L605.29 160.77 L606.06 160.58 L606.83 160.39 L607.60 160.20 L608.37 160.01 L609.13 159.82 L609.90 159.63 L610.66 159.44 L611.43 159.25 L612.19 159.06 L612.95 158.88 L613.72 158.69 L614.48 158.50 L615.24 158.31 L615.99 158.13 L616.75 157.94 L617.51 157.76 L618.26 157.57 L619.01 157.39 L619.77 157.21 L620.52 157.03 L621.27 156.84 L622.02 156.66 L622.77 156.48 L623.51 156.30 L624.26 156.12 L625.01 155.94 L625.75 155.77 L626.49 155.59 L627.23 155.41 L627.97 155.24 L628.71 155.06 L629.45 154.89 L630.19 154.72 L630.93 154.54 L631.66 154.37 L632.39 154.20 L633.13 154.03 L633.86 153.87 L634.59 153.70 L635.32 153.53 L636.04 153.37 L636.77 153.20 L637.49 153.04 L638.22 152.88 L638.94 152.71 L639.66 152.55 L640.38 152.40 L641.10 152.24 L641.82 152.08 L642.54 151.92 L643.25 151.77 L643.97 151.62 L644.68 151.47 L645.39 151.31 L646.10 151.16 L646.81 151.02 L647.52 150.87 L648.23 150.72 L648.93 150.58 L649.63 150.44 L650.34 150.29 L651.04 150.15 L651.74 150.02 L652.44 149.88 L653.13 149.74 L653.83 149.61 L654.53 149.47 L655.22 149.34 L655.91 149.21 L656.60 149.08 L657.29 148.96 L657.98 148.83 L658.67 148.71 L659.35 148.58 L660.04 148.46 L660.72 148.34 L661.40 148.23 L662.08 148.11 L662.76 148.00 L663.44 147.88 L664.11 147.77 L664.79 147.66 L665.46 147.56 L666.13 147.45 L666.80 147.35 L667.47 147.24 L668.14 147.14 L668.80 147.04 L669.47 146.95 L670.13 146.85 L670.79 146.76 L671.45 146.67 L672.11 146.58 L672.77 146.49 L673.43 146.40 L674.08 146.32 L674.73 146.24 L675.38 146.16 L676.03 146.08 L676.68 146.00 L677.33 145.93 L677.98 145.86 L678.62 145.79 L679.26 145.72 L679.90 145.65 L680.54 145.59 L681.18 145.53 L681.82 145.47 L682.45 145.41 L683.09 145.35 L683.72 145.30 L684.35 145.25 L684.98 145.20 L685.61 145.15 L686.23 145.11 L686.86 145.06 L687.48 145.02 L688.10 144.99 L688.72 144.95 L689.34 144.92 L689.95 144.88 L690.57 144.85 L691.18 144.83 L691.80 144.80 L692.41 144.78 L693.01 144.76 L693.62 144.74 L694.23 144.72 L694.83 144.71 L695.43 144.70 L696.03 144.69 L696.63 144.68 L697.23 144.68 L697.83 144.68 L698.42 144.68 L699.01 144.68 L699.60 144.69 L700.19 144.69 L700.78 144.70 L701.37 144.72 L701.95 144.73 L702.53 144.75 L703.12 144.77 L703.70 144.79 L704.27 144.82 L704.85 144.84 L705.42 144.87 L706.00 144.91 L706.57 144.94 L707.14 144.98 L707.70 145.02 L708.27 145.06 L708.83 145.10 L709.40 145.15 L709.96 145.20 L710.52 145.25 L711.08 145.31 L711.63 145.37 L712.19 145.43 L712.74 145.49 L713.29 145.55 L713.84 145.62 L714.38 145.69 L714.93 145.77 L715.47 145.84 L716.02 145.92 L716.56 146.00 L717.09 146.08 L717.63 146.17 L718.17 146.26 L718.70 146.35 L719.23 146.44 L719.76 146.54 L720.29 146.64 L720.81 146.74 L721.34 146.85 L721.86 146.95 L722.38 147.06 L722.90 147.17 L723.42 147.29 L723.93 147.41 L724.45 147.53 L724.96 147.65 L725.47 147.78 L725.98 147.91 L726.48 148.04 L726.99 148.17 L727.49 148.31 L727.99 148.45 L728.49 148.59 L728.99 148.73 L729.48 148.88 L729.97 149.03 L730.47 149.18 L730.96 149.34 L731.44 149.50 L731.93 149.66 L732.41 149.82 L732.90 149.99 L733.38 150.16 L733.86 150.33 L734.33 150.50 L734.81 150.68 L735.28 150.86 L735.75 151.04 L736.22 151.23 L736.69 151.41 L737.15 151.60 L737.62 151.80 L738.08 151.99 L738.54 152.19 L739.00 152.39 L739.45 152.60 L739.91 152.80 L740.36 153.01 L740.81 153.23 L741.26 153.44 L741.70 153.66 L742.15 153.88 L742.59 154.10 L743.03 154.33 L743.47 154.55 L743.91 154.78 L744.34 155.02 L744.77 155.25 L745.21 155.49 L745.63 155.73 L746.06 155.98 L746.49 156.22 L746.91 156.47 L747.33 156.73 L747.75 156.98 L748.17 157.24 L748.58 157.50 L748.99 157.76 L749.41 158.03 L749.82 158.29 L750.22 158.56 L750.63 158.84 L751.03 159.11 L751.43 159.39 L751.83 159.67 L752.23 159.96 L752.62 160.24 L753.02 160.53 L753.41 160.82 L753.80 161.11 L754.19 161.41 L754.57 161.71 L754.96 162.01 L755.34 162.32 L755.72 162.62 L756.09 162.93 L756.47 163.24 L756.84 163.56 L757.21 163.87 L757.58 164.19 L757.95 164.51 L758.31 164.84 L758.68 165.16 L759.04 165.49 L759.40 165.82 L759.75 166.16 L760.11 166.49 L760.46 166.83 L760.81 167.17 L761.16 167.52 L761.51 167.86 L761.85 168.21 L762.19 168.56 L762.54 168.91 L762.87 169.27 L763.21 169.63 L763.54 169.99 L763.88 170.35 L764.21 170.72 L764.53 171.08 L764.86 171.45 L765.18 171.82 L765.51 172.20 L765.83 172.57 L766.14 172.95 L766.46 173.33 L766.77 173.72 L767.08 174.10 L767.39 174.49 L767.70 174.88 L768.00 175.27 L768.31 175.67 L768.61 176.06 L768.91 176.46 L769.20 176.86 L769.50 177.27 L769.79 177.67 L770.08 178.08 L770.37 178.49 L770.65 178.90 L770.94 179.31 L771.22 179.73 L771.50 180.15 L771.78 180.57 L772.05 180.99 L772.33 181.41 L772.60 181.84 L772.87 182.27 L773.13 182.70 L773.40 183.13 L773.66 183.56 L773.92 184.00 L774.18 184.44 L774.43 184.88 L774.69 185.32 L774.94 185.76 L775.19 186.21 L775.44 186.65 L775.68 187.10 L775.93 187.56 L776.17 188.01 L776.41 188.46 L776.64 188.92 L776.88 189.38 L777.11 189.84 L777.34 190.30 L777.57 190.76 L777.79 191.23 L778.02 191.70 L778.24 192.17 L778.46 192.64 L778.67 193.11 L778.89 193.58 L779.10 194.06 L779.31 194.54 L779.52 195.01 L779.73 195.50 L779.93 195.98 L780.13 196.46 L780.33 196.95 L780.53 197.43 L780.73 197.92 L780.92 198.41 L781.11 198.90 L781.30 199.40 L781.48 199.89 L781.67 200.39 L781.85 200.88 L782.03 201.38 L782.21 201.88 L782.38 202.38 L782.56 202.89 L782.73 203.39 L782.90 203.90 L783.06 204.40 L783.23 204.91 L783.39 205.42 L783.55 205.93 L783.71 206.44 L783.86 206.96 L784.02 207.47 L784.17 207.99 L784.32 208.50 L784.46 209.02 L784.61 209.54 L784.75 210.06 L784.89 210.58 L785.03 211.11 L785.16 211.63 L785.30 212.15 L785.43 212.68 L785.56 213.21 L785.68 213.74 L785.81 214.26 L785.93 214.79 L786.05 215.33 L786.17 215.86 L786.28 216.39 L786.40 216.92 L786.51 217.46 L786.62 217.99 L786.72 218.53 L786.83 219.07 L786.93 219.61 L787.03 220.15 L787.13 220.69 L787.22 221.23 L787.32 221.77 L787.41 222.31 L787.50 222.85 L787.58 223.40 L787.67 223.94 L787.75 224.49 L787.83 225.03 L787.91 225.58 L787.98 226.12 L788.06 226.67 L788.13 227.22 L788.20 227.77 L788.26 228.32 L788.33 228.87 L788.39 229.42 L788.45 229.97 L788.50 230.52 L788.56 231.07 L788.61 231.62 L788.66 232.17 L788.71 232.73 L788.76 233.28 L788.80 233.83 L788.84 234.39 L788.88 234.94 L788.92 235.50 L788.95 236.05 L788.99 236.61 L789.02 237.16 L789.05 237.72 L789.07 238.28 L789.10 238.83 L789.12 239.39 L789.14 239.94 L789.15 240.50 L789.17 241.06 L789.18 241.61 L789.19 242.17 L789.20 242.73 L789.20 243.29 L789.21 243.84 L789.21 244.40" stroke="#00ff00" stroke-width="2.7" stroke-dasharray="13.200 6.137"/>
</g>
<!-- zero lines -->
<g stroke="#666" stroke-opacity="0.5" stroke-width="0.66" fill="none">
<line x1="461.40" y1="23.77" x2="461.40" y2="470.75" stroke-dasharray="8.7 6.43"/>
<line x1="90.98" y1="244.42" x2="827.5" y2="244.42" stroke-dasharray="8.5 6.43"/>
</g>
<path d="M132.97 458.86 L134.62 456.66 L136.27 454.48 L137.91 452.32 L139.56 450.18 L141.20 448.05 L142.85 445.93 L144.49 443.84 L146.14 441.76 L147.79 439.70 L149.43 437.65 L151.08 435.62 L152.72 433.60 L154.37 431.60 L156.01 429.62 L157.66 427.65 L159.31 425.70 L160.95 423.77 L162.60 421.85 L164.24 419.94 L165.89 418.05 L167.53 416.18 L169.18 414.32 L170.83 412.47 L172.47 410.64 L174.12 408.83 L175.76 407.03 L177.41 405.25 L179.05 403.48 L180.70 401.72 L182.35 399.98 L183.99 398.26 L185.64 396.54 L187.28 394.85 L188.93 393.16 L190.57 391.49 L192.22 389.84 L193.87 388.20 L195.51 386.57 L197.16 384.96 L198.80 383.36 L200.45 381.77 L202.10 380.20 L203.74 378.64 L205.39 377.09 L207.03 375.56 L208.68 374.04 L210.32 372.53 L211.97 371.04 L213.62 369.56 L215.26 368.09 L216.91 366.63 L218.55 365.19 L220.20 363.76 L221.84 362.34 L223.49 360.94 L225.14 359.55 L226.78 358.16 L228.43 356.80 L230.07 355.44 L231.72 354.09 L233.36 352.76 L235.01 351.44 L236.66 350.13 L238.30 348.83 L239.95 347.55 L241.59 346.27 L243.24 345.01 L244.88 343.76 L246.53 342.52 L248.18 341.29 L249.82 340.07 L251.47 338.86 L253.11 337.66 L254.76 336.48 L256.40 335.30 L258.05 334.14 L259.70 332.98 L261.34 331.84 L262.99 330.71 L264.63 329.58 L266.28 328.47 L267.92 327.37 L269.57 326.27 L271.22 325.19 L272.86 324.12 L274.51 323.05 L276.15 322.00 L277.80 320.96 L279.45 319.92 L281.09 318.90 L282.74 317.88 L284.38 316.87 L286.03 315.88 L287.67 314.89 L289.32 313.91 L290.97 312.94 L292.61 311.98 L294.26 311.02 L295.90 310.08 L297.55 309.14 L299.19 308.21 L300.84 307.30 L302.49 306.39 L304.13 305.48 L305.78 304.59 L307.42 303.70 L309.07 302.82 L310.71 301.95 L312.36 301.09 L314.01 300.24 L315.65 299.39 L317.30 298.55 L318.94 297.72 L320.59 296.89 L322.23 296.07 L323.88 295.26 L325.53 294.46 L327.17 293.66 L328.82 292.87 L330.46 292.09 L332.11 291.31 L333.75 290.54 L335.40 289.78 L337.05 289.03 L338.69 288.28 L340.34 287.53 L341.98 286.80 L343.63 286.07 L345.27 285.34 L346.92 284.62 L348.57 283.91 L350.21 283.20 L351.86 282.50 L353.50 281.80 L355.15 281.11 L356.80 280.43 L358.44 279.75 L360.09 279.08 L361.73 278.41 L363.38 277.75 L365.02 277.09 L366.67 276.43 L368.32 275.78 L369.96 275.14 L371.61 274.50 L373.25 273.87 L374.90 273.24 L376.54 272.61 L378.19 271.99 L379.84 271.38 L381.48 270.76 L383.13 270.15 L384.77 269.55 L386.42 268.95 L388.06 268.35 L389.71 267.76 L391.36 267.17 L393.00 266.59 L394.65 266.01 L396.29 265.43 L397.94 264.85 L399.58 264.28 L401.23 263.71 L402.88 263.15 L404.52 262.58 L406.17 262.02 L407.81 261.47 L409.46 260.91 L411.10 260.36 L412.75 259.81 L414.40 259.27 L416.04 258.73 L417.69 258.18 L419.33 257.65 L420.98 257.11 L422.62 256.57 L424.27 256.04 L425.92 255.51 L427.56 254.98 L429.21 254.45 L430.85 253.93 L432.50 253.40 L434.15 252.88 L435.79 252.36 L437.44 251.84 L439.08 251.32 L440.73 250.81 L442.37 250.29 L444.02 249.77 L445.67 249.26 L447.31 248.75 L448.96 248.23 L450.60 247.72 L452.25 247.21 L453.89 246.70 L455.54 246.19 L457.19 245.68 L458.83 245.17 L460.48 244.66 L462.12 244.14 L463.77 243.63 L465.41 243.12 L467.06 242.61 L468.71 242.10 L470.35 241.59 L472.00 241.08 L473.64 240.57 L475.29 240.05 L476.93 239.54 L478.58 239.03 L480.23 238.51 L481.87 237.99 L483.52 237.48 L485.16 236.96 L486.81 236.44 L488.45 235.92 L490.10 235.40 L491.75 234.87 L493.39 234.35 L495.04 233.82 L496.68 233.29 L498.33 232.76 L499.98 232.23 L501.62 231.69 L503.27 231.15 L504.91 230.62 L506.56 230.07 L508.20 229.53 L509.85 228.99 L511.50 228.44 L513.14 227.89 L514.79 227.33 L516.43 226.78 L518.08 226.22 L519.72 225.65 L521.37 225.09 L523.02 224.52 L524.66 223.95 L526.31 223.37 L527.95 222.79 L529.60 222.21 L531.24 221.63 L532.89 221.04 L534.54 220.45 L536.18 219.85 L537.83 219.25 L539.47 218.65 L541.12 218.04 L542.76 217.42 L544.41 216.81 L546.06 216.19 L547.70 215.56 L549.35 214.93 L550.99 214.30 L552.64 213.66 L554.28 213.02 L555.93 212.37 L557.58 211.71 L559.22 211.05 L560.87 210.39 L562.51 209.72 L564.16 209.05 L565.80 208.37 L567.45 207.69 L569.10 207.00 L570.74 206.30 L572.39 205.60 L574.03 204.89 L575.68 204.18 L577.33 203.46 L578.97 202.73 L580.62 202.00 L582.26 201.27 L583.91 200.52 L585.55 199.77 L587.20 199.02 L588.85 198.26 L590.49 197.49 L592.14 196.71 L593.78 195.93 L595.43 195.14 L597.07 194.34 L598.72 193.54 L600.37 192.73 L602.01 191.91 L603.66 191.08 L605.30 190.25 L606.95 189.41 L608.59 188.56 L610.24 187.71 L611.89 186.85 L613.53 185.98 L615.18 185.10 L616.82 184.21 L618.47 183.32 L620.11 182.41 L621.76 181.50 L623.41 180.59 L625.05 179.66 L626.70 178.72 L628.34 177.78 L629.99 176.82 L631.63 175.86 L633.28 174.89 L634.93 173.91 L636.57 172.92 L638.22 171.93 L639.86 170.92 L641.51 169.90 L643.15 168.88 L644.80 167.84 L646.45 166.80 L648.09 165.75 L649.74 164.68 L651.38 163.61 L653.03 162.53 L654.68 161.43 L656.32 160.33 L657.97 159.22 L659.61 158.09 L661.26 156.96 L662.90 155.82 L664.55 154.66 L666.20 153.50 L667.84 152.32 L669.49 151.14 L671.13 149.94 L672.78 148.73 L674.42 147.51 L676.07 146.28 L677.72 145.04 L679.36 143.79 L681.01 142.53 L682.65 141.25 L684.30 139.97 L685.94 138.67 L687.59 137.36 L689.24 136.04 L690.88 134.71 L692.53 133.36 L694.17 132.00 L695.82 130.64 L697.46 129.25 L699.11 127.86 L700.76 126.46 L702.40 125.04 L704.05 123.61 L705.69 122.17 L707.34 120.71 L708.98 119.24 L710.63 117.76 L712.28 116.27 L713.92 114.76 L715.57 113.24 L717.21 111.71 L718.86 110.16 L720.50 108.60 L722.15 107.03 L723.80 105.44 L725.44 103.84 L727.09 102.23 L728.73 100.60 L730.38 98.96 L732.03 97.31 L733.67 95.64 L735.32 93.95 L736.96 92.26 L738.61 90.54 L740.25 88.82 L741.90 87.08 L743.55 85.32 L745.19 83.55 L746.84 81.77 L748.48 79.97 L750.13 78.16 L751.77 76.33 L753.42 74.48 L755.07 72.62 L756.71 70.75 L758.36 68.86 L760.00 66.95 L761.65 65.03 L763.29 63.10 L764.94 61.15 L766.59 59.18 L768.23 57.20 L769.88 55.20 L771.52 53.18 L773.17 51.15 L774.81 49.10 L776.46 47.04 L778.11 44.96 L779.75 42.87 L781.40 40.75 L783.04 38.62 L784.69 36.48 L786.33 34.32 L787.98 32.14 L789.63 29.94" stroke="#ff0000" stroke-width="2.6" fill="none"/>
<!-- frame -->
<g stroke="#666" stroke-width="0.85" fill="none">
<rect x="95.25" y="17.75" width="732.25" height="453.00"/>
<line x1="126.70" y1="470.75" x2="126.70" y2="462.15"/><line x1="126.70" y1="17.75" x2="126.70" y2="26.35"/><line x1="168.52" y1="470.75" x2="168.52" y2="465.75"/><line x1="168.52" y1="17.75" x2="168.52" y2="22.75"/><line x1="210.35" y1="470.75" x2="210.35" y2="465.75"/><line x1="210.35" y1="17.75" x2="210.35" y2="22.75"/><line x1="252.18" y1="470.75" x2="252.18" y2="465.75"/><line x1="252.18" y1="17.75" x2="252.18" y2="22.75"/><line x1="294.00" y1="470.75" x2="294.00" y2="462.15"/><line x1="294.00" y1="17.75" x2="294.00" y2="26.35"/><line x1="335.82" y1="470.75" x2="335.82" y2="465.75"/><line x1="335.82" y1="17.75" x2="335.82" y2="22.75"/><line x1="377.65" y1="470.75" x2="377.65" y2="465.75"/><line x1="377.65" y1="17.75" x2="377.65" y2="22.75"/><line x1="419.48" y1="470.75" x2="419.48" y2="465.75"/><line x1="419.48" y1="17.75" x2="419.48" y2="22.75"/><line x1="461.30" y1="470.75" x2="461.30" y2="462.15"/><line x1="461.30" y1="17.75" x2="461.30" y2="26.35"/><line x1="503.12" y1="470.75" x2="503.12" y2="465.75"/><line x1="503.12" y1="17.75" x2="503.12" y2="22.75"/><line x1="544.95" y1="470.75" x2="544.95" y2="465.75"/><line x1="544.95" y1="17.75" x2="544.95" y2="22.75"/><line x1="586.78" y1="470.75" x2="586.78" y2="465.75"/><line x1="586.78" y1="17.75" x2="586.78" y2="22.75"/><line x1="628.60" y1="470.75" x2="628.60" y2="462.15"/><line x1="628.60" y1="17.75" x2="628.60" y2="26.35"/><line x1="670.42" y1="470.75" x2="670.42" y2="465.75"/><line x1="670.42" y1="17.75" x2="670.42" y2="22.75"/><line x1="712.25" y1="470.75" x2="712.25" y2="465.75"/><line x1="712.25" y1="17.75" x2="712.25" y2="22.75"/><line x1="754.08" y1="470.75" x2="754.08" y2="465.75"/><line x1="754.08" y1="17.75" x2="754.08" y2="22.75"/><line x1="795.90" y1="470.75" x2="795.90" y2="462.15"/><line x1="795.90" y1="17.75" x2="795.90" y2="26.35"/><line x1="95.25" y1="461.82" x2="100.25" y2="461.82"/><line x1="827.50" y1="461.82" x2="822.50" y2="461.82"/><line x1="95.25" y1="442.05" x2="100.25" y2="442.05"/><line x1="827.50" y1="442.05" x2="822.50" y2="442.05"/><line x1="95.25" y1="422.29" x2="100.25" y2="422.29"/><line x1="827.50" y1="422.29" x2="822.50" y2="422.29"/><line x1="95.25" y1="402.52" x2="103.85" y2="402.52"/><line x1="827.50" y1="402.52" x2="818.90" y2="402.52"/><line x1="95.25" y1="382.75" x2="100.25" y2="382.75"/><line x1="827.50" y1="382.75" x2="822.50" y2="382.75"/><line x1="95.25" y1="362.99" x2="100.25" y2="362.99"/><line x1="827.50" y1="362.99" x2="822.50" y2="362.99"/><line x1="95.25" y1="343.23" x2="100.25" y2="343.23"/><line x1="827.50" y1="343.23" x2="822.50" y2="343.23"/><line x1="95.25" y1="323.46" x2="103.85" y2="323.46"/><line x1="827.50" y1="323.46" x2="818.90" y2="323.46"/><line x1="95.25" y1="303.69" x2="100.25" y2="303.69"/><line x1="827.50" y1="303.69" x2="822.50" y2="303.69"/><line x1="95.25" y1="283.93" x2="100.25" y2="283.93"/><line x1="827.50" y1="283.93" x2="822.50" y2="283.93"/><line x1="95.25" y1="264.17" x2="100.25" y2="264.17"/><line x1="827.50" y1="264.17" x2="822.50" y2="264.17"/><line x1="95.25" y1="244.40" x2="103.85" y2="244.40"/><line x1="827.50" y1="244.40" x2="818.90" y2="244.40"/><line x1="95.25" y1="224.63" x2="100.25" y2="224.63"/><line x1="827.50" y1="224.63" x2="822.50" y2="224.63"/><line x1="95.25" y1="204.87" x2="100.25" y2="204.87"/><line x1="827.50" y1="204.87" x2="822.50" y2="204.87"/><line x1="95.25" y1="185.10" x2="100.25" y2="185.10"/><line x1="827.50" y1="185.10" x2="822.50" y2="185.10"/><line x1="95.25" y1="165.34" x2="103.85" y2="165.34"/><line x1="827.50" y1="165.34" x2="818.90" y2="165.34"/><line x1="95.25" y1="145.57" x2="100.25" y2="145.57"/><line x1="827.50" y1="145.57" x2="822.50" y2="145.57"/><line x1="95.25" y1="125.81" x2="100.25" y2="125.81"/><line x1="827.50" y1="125.81" x2="822.50" y2="125.81"/><line x1="95.25" y1="106.04" x2="100.25" y2="106.04"/><line x1="827.50" y1="106.04" x2="822.50" y2="106.04"/><line x1="95.25" y1="86.28" x2="103.85" y2="86.28"/><line x1="827.50" y1="86.28" x2="818.90" y2="86.28"/><line x1="95.25" y1="66.51" x2="100.25" y2="66.51"/><line x1="827.50" y1="66.51" x2="822.50" y2="66.51"/><line x1="95.25" y1="46.75" x2="100.25" y2="46.75"/><line x1="827.50" y1="46.75" x2="822.50" y2="46.75"/><line x1="95.25" y1="26.98" x2="100.25" y2="26.98"/><line x1="827.50" y1="26.98" x2="822.50" y2="26.98"/>
</g>
<!-- tick labels -->
<g style="opacity:0.999">
<text transform="translate(53.53 94.75) scale(0.2800 0.2800)" style="font-family:'Liberation Serif',serif;font-size:100px">0.4</text>
<text transform="translate(53.34 172.70) scale(0.2800 0.2800)" style="font-family:'Liberation Serif',serif;font-size:100px">0.2</text>
<text transform="translate(78.00 251.82) scale(0.2800 0.2800)" style="font-family:'Liberation Serif',serif;font-size:100px">0</text>
<text transform="translate(46.94 330.60) scale(0.2800 0.2800)" style="font-family:'Liberation Serif',serif;font-size:100px">-0.2</text>
<text transform="translate(47.68 411.45) scale(0.2800 0.2800)" style="font-family:'Liberation Serif',serif;font-size:100px">-0.4</text>
<text transform="translate(105.48 493.65) scale(0.2800 0.2800)" style="font-family:'Liberation Serif',serif;font-size:100px">-0.4</text>
<text transform="translate(268.64 493.65) scale(0.2800 0.2800)" style="font-family:'Liberation Serif',serif;font-size:100px">-0.2</text>
<text transform="translate(453.30 493.72) scale(0.2800 0.2800)" style="font-family:'Liberation Serif',serif;font-size:100px">0</text>
<text transform="translate(613.35 493.65) scale(0.2800 0.2800)" style="font-family:'Liberation Serif',serif;font-size:100px">0.2</text>
<text transform="translate(776.98 493.70) scale(0.2800 0.2800)" style="font-family:'Liberation Serif',serif;font-size:100px">0.4</text>

<!-- annotations -->
<text transform="translate(101.51 48.79) scale(0.3313 0.2733)" style="font-family:'Liberation Serif',serif;font-size:100px" stroke="#000" stroke-width="0.66">(b)</text>
<text transform="translate(135.68 86.59) scale(0.3146 0.2579)" style="font-family:'Liberation Serif',serif;font-size:100px">ξ=∞</text>
<text transform="translate(205.22 85.75) scale(0.3154 0.2493)" style="font-family:'Liberation Serif',serif;font-size:100px">cosθ=23°</text>

<!-- x axis label -->
<text transform="translate(727.73 496.10) scale(0.3000 0.2974)" style="font-family:'Liberation Serif',serif;font-style:italic;font-size:100px" stroke="#000" stroke-width="0.67">ω</text>
<text transform="translate(725.52 531.20) scale(0.3689 0.3319)" style="font-family:'Liberation Serif',serif;font-style:italic;font-size:100px" stroke="#000" stroke-width="0.57">m</text>
<rect x="725.8" y="505.1" width="25.3" height="1.6" fill="#000"/>

<!-- y axis label -->
<text transform="translate(38.63 66.48) rotate(-90) scale(0.3842 0.2529)" style="font-family:'Liberation Serif',serif;font-style:italic;font-size:100px" stroke="#000" stroke-width="0.63">f</text>
<text transform="translate(39.07 49.18) rotate(-90) scale(0.3059 0.2696)" style="font-family:'Liberation Serif',serif;font-size:100px" stroke="#000" stroke-width="0.87">(</text>
<text transform="translate(39.41 38.63) rotate(-90) scale(0.2857 0.2890)" style="font-family:'Liberation Serif',serif;font-style:italic;font-size:100px" stroke="#000" stroke-width="0.70">ω</text>
<text transform="translate(39.07 17.61) rotate(-90) scale(0.3107 0.2696)" style="font-family:'Liberation Serif',serif;font-size:100px" stroke="#000" stroke-width="0.86">)</text>
<text transform="translate(71.50 56.23) rotate(-90) scale(0.3549 0.2851)" style="font-family:'Liberation Serif',serif;font-style:italic;font-size:100px" stroke="#000" stroke-width="0.63">m</text>
<text transform="translate(63.31 29.57) rotate(-90) scale(0.1916 0.1921)" style="font-family:'Liberation Sans',sans-serif;font-size:100px">5</text>
<rect x="46.5" y="6.4" width="1.8" height="60.1" fill="#000"/>
</g>
</svg>
</body></html>
